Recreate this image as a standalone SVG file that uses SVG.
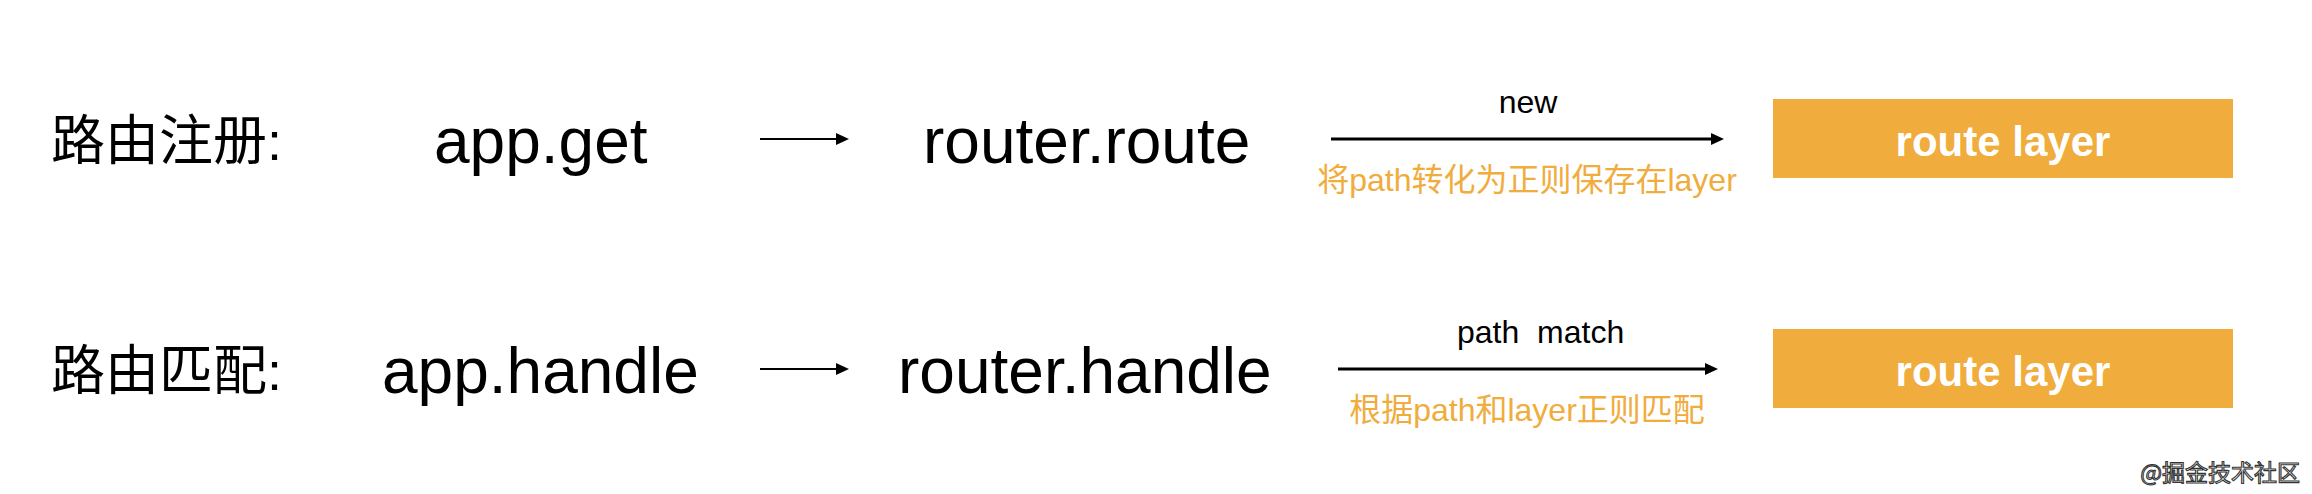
<svg xmlns="http://www.w3.org/2000/svg" width="2312" height="494" viewBox="0 0 2312 494">
<style>
.lbl{font-family:"Liberation Sans","Noto Sans CJK SC",sans-serif;font-size:54px;fill:#000}
.fn{font-family:"Liberation Sans","Noto Sans CJK SC",sans-serif;font-size:64px;fill:#000}
.edge{font-family:"Liberation Sans","Noto Sans CJK SC",sans-serif;font-size:32px;fill:#000}
.note{font-family:"Liberation Sans","Noto Sans CJK SC",sans-serif;font-size:32px;fill:#F0AC3C}
.box{fill:#F0AC3C}
.boxt{font-family:"Liberation Sans",sans-serif;font-size:42px;font-weight:bold;fill:#fff}
.thin{stroke:#000;stroke-width:2;fill:none}
.thick{stroke:#000;stroke-width:3;fill:none}
.wm{font-family:"Noto Sans CJK SC",sans-serif;font-size:23px;fill:#fff;stroke:#333;stroke-width:1.1}
</style>
<defs>
<marker id="ah" markerUnits="userSpaceOnUse" markerWidth="14" markerHeight="12" refX="3" refY="6" orient="auto">
<path d="M0,0 L13,6 L0,12 z" fill="#000"/>
</marker>
</defs>
<rect width="2312" height="494" fill="#fff"/>
<g id="row1-label"><text class="lbl" x="51" y="160">路由注册:</text></g>
<g id="app-get"><text class="fn" x="434" y="163">app.get</text></g>
<g id="router-route"><text class="fn" x="923" y="163">router.route</text></g>
<g id="route-layer-1">
<rect class="box" x="1773" y="99" width="460" height="79"/>
<text class="boxt" x="2003" y="156" text-anchor="middle">route layer</text>
</g>
<g id="row2-label"><text class="lbl" x="51" y="390">路由匹配:</text></g>
<g id="app-handle"><text class="fn" x="382" y="393">app.handle</text></g>
<g id="router-handle"><text class="fn" x="898" y="393">router.handle</text></g>
<g id="route-layer-2">
<rect class="box" x="1773" y="329" width="460" height="79"/>
<text class="boxt" x="2003" y="386" text-anchor="middle">route layer</text>
</g>
<g id="connectors">
<line class="thin" x1="760" y1="139" x2="839" y2="139" marker-end="url(#ah)"/>
<line class="thick" x1="1331" y1="139" x2="1714" y2="139" marker-end="url(#ah)"/>
<text class="edge" x="1528" y="113" text-anchor="middle">new</text>
<text class="note" x="1527" y="191" text-anchor="middle">将path转化为正则保存在layer</text>
<line class="thin" x1="760" y1="369" x2="839" y2="369" marker-end="url(#ah)"/>
<line class="thick" x1="1338" y1="369" x2="1708" y2="369" marker-end="url(#ah)"/>
<text class="edge" x="1457" y="343" xml:space="preserve">path  match</text>
<text class="note" x="1527" y="421" text-anchor="middle">根据path和layer正则匹配</text>
</g>
<g id="watermark"><text class="wm" x="2300" y="481" text-anchor="end">@掘金技术社区</text></g>
</svg>
